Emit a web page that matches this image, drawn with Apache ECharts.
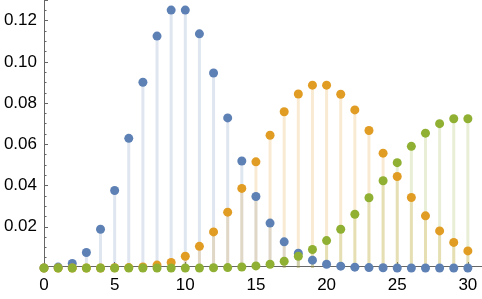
<!DOCTYPE html>
<html>
<head>
<meta charset="utf-8">
<script src="https://cdn.jsdelivr.net/npm/echarts@6/dist/echarts.min.js"></script>
<style>
html,body{margin:0;padding:0;background:#fff;}
#chart{width:482px;height:299px;}
</style>
</head>
<body>
<div id="chart"></div>
<script>
var ks = [0,1,2,3,4,5,6,7,8,9,10,11,12,13,14,15,16,17,18,19,20,21,22,23,24,25,26,27,28,29,30];
var blueVals = [0.00005,0.00045,0.0022,0.0075,0.0188,0.0376,0.0629,0.0901,0.1125,0.1251,0.1251,0.1136,0.0946,0.0728,0.0519,0.0347,0.0218,0.0127,0.0072,0.0038,0.0018,0.0009,0.0004,0.0002,0.0001,0,0,0,0,0,0];
var orangeVals = [0,0,0,0,0,0.0001,0.0002,0.0005,0.0014,0.0027,0.0057,0.0105,0.0175,0.0271,0.0386,0.0515,0.0644,0.0758,0.0844,0.0887,0.0887,0.0843,0.0767,0.0667,0.0557,0.0444,0.0342,0.0253,0.0180,0.0124,0.0083];
var greenVals = [0,0,0,0,0,0,0,0,0,0,0,0,0.0001,0.0002,0.0005,0.0010,0.0018,0.0033,0.0057,0.0090,0.0133,0.0188,0.0261,0.0341,0.0423,0.0511,0.0590,0.0654,0.0700,0.0724,0.0724];
var xTickLabels = [0,5,10,15,20,25,30];
var yTickLabels = [0.02,0.04,0.06,0.08,0.10,0.12];

var colors = ['#5E81B5','#E19C24','#8FB032'];
var stemColors = ['rgba(94,129,181,0.2)','rgba(225,156,36,0.2)','rgba(143,176,50,0.2)'];
var allVals = [blueVals, orangeVals, greenVals];

function pairs(vals){ return ks.map(function(k,i){ return [k, vals[i]]; }); }

var series = [];
allVals.forEach(function(v,i){
  series.push({
    type:'bar', data:pairs(v), barWidth:3, barGap:'-100%',
    itemStyle:{color:stemColors[i]}, z:1, silent:true, animation:false
  });
});
allVals.forEach(function(v,i){
  series.push({
    type:'scatter', data:pairs(v), symbol:'circle', symbolSize:9,
    itemStyle:{color:colors[i], opacity:1}, z:5, clip:false, animation:false
  });
});

var font = {fontFamily:'Liberation Sans, Arial, sans-serif', fontSize:17, color:'#000'};
var chart = echarts.init(document.getElementById('chart'), null, {renderer:'canvas'});
chart.setOption({
  animation:false,
  grid:{left:44, right:0, top:-3, bottom:31, containLabel:false},
  xAxis:[{
    type:'value', min:0, max:31, interval:5, position:'bottom', offset:-2,
    axisLine:{onZero:false, lineStyle:{color:'#666', width:1}},
    axisTick:{show:true, inside:true, length:4, lineStyle:{color:'#666'}},
    splitLine:{show:false},
    axisLabel:Object.assign({margin:11, showMaxLabel:false, formatter:function(v){
      return xTickLabels.indexOf(Math.round(v))>=0 && Math.abs(v-Math.round(v))<1e-9 ? String(Math.round(v)) : '';
    }}, font)
  }],
  yAxis:[{
    type:'value', min:0, max:0.13, interval:0.02, position:'left',
    axisLine:{show:true, onZero:false, lineStyle:{color:'#666', width:1}},
    axisTick:{show:true, inside:true, length:4, lineStyle:{color:'#666'}},
    splitLine:{show:false},
    axisLabel:Object.assign({margin:7, formatter:function(v){
      for (var i=0;i<yTickLabels.length;i++){ if (Math.abs(v-yTickLabels[i])<1e-9) return yTickLabels[i].toFixed(2); }
      return '';
    }}, font)
  },{
    type:'value', min:0, max:0.13, interval:0.005, position:'left',
    axisLine:{show:false},
    axisTick:{show:true, inside:true, length:2.5, lineStyle:{color:'#666'}},
    splitLine:{show:false},
    axisLabel:{show:false}
  }],
  series:series
});
</script>
</body>
</html>
